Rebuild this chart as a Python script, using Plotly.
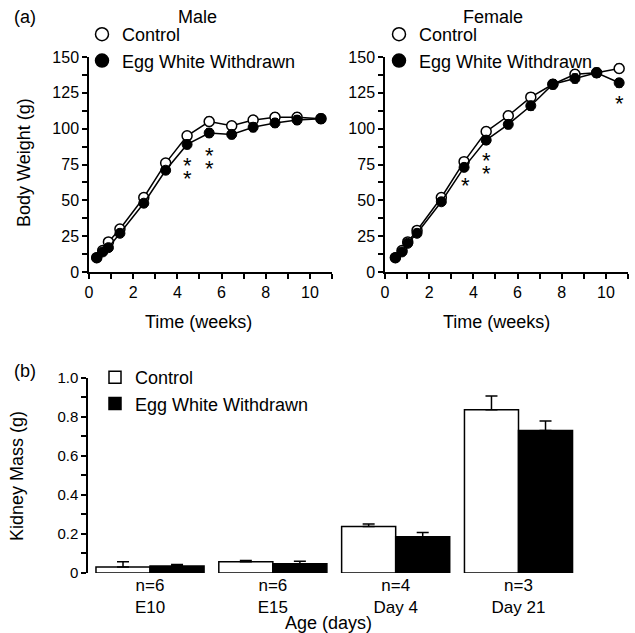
import plotly.graph_objects as go

# ---------------- data ----------------
male_weeks = [0.35, 0.62, 0.88, 1.4, 2.48, 3.47, 4.44, 5.44, 6.46, 7.43, 8.42, 9.42, 10.5]
male_control = [10, 15, 21, 30, 52, 76, 95, 105, 102, 106, 108, 108, 107]
male_control_err = [2, 2, 2, 2.5, 2.5, 2.5, 3, 3, 3, 3, 3, 3, 3]
male_eww = [10, 14, 17, 27, 48, 71, 89, 97, 96, 101, 104, 106, 107]
male_eww_err = [2, 2, 2, 2.5, 2.5, 2.5, 3, 3, 3, 3, 3, 3, 3]

female_weeks = [0.47, 0.77, 1.03, 1.45, 2.55, 3.58, 4.58, 5.58, 6.6, 7.6, 8.6, 9.58, 10.6]
female_control = [10, 15, 21, 29, 52, 77, 98, 109, 122, 131, 138, 139, 142]
female_control_err = [2, 2, 2, 2.5, 2.5, 2.5, 3, 3, 3, 3, 3, 3, 3]
female_eww = [10, 14, 20, 27, 49, 73, 92, 103, 116, 131, 135, 139, 132]
female_eww_err = [2, 2, 2, 2.5, 2.5, 2.5, 3, 3, 3, 3, 3, 3, 3]

# significance stars (visible positions)
male_star_x = [4.44, 4.44, 5.44, 5.44]
male_star_y = [78, 69, 85, 76]
female_star_x = [3.64, 4.59, 4.59, 10.62]
female_star_y = [64, 81, 72, 121]

age_groups = ["n=6<br>E10", "n=6<br>E15", "n=4<br>Day 4", "n=3<br>Day 21"]
kidney_control = [0.031, 0.057, 0.238, 0.836]
kidney_control_err = [0.026, 0.007, 0.013, 0.07]
kidney_eww = [0.036, 0.047, 0.186, 0.730]
kidney_eww_err = [0.007, 0.013, 0.021, 0.048]

week_ticks = list(range(0, 12))
week_labels = [str(v) if v % 2 == 0 and v <= 10 else "" for v in week_ticks]
bw_ticks = [i * 12.5 for i in range(13)]
bw_labels = [str(int(v)) if v % 25 == 0 else "" for v in bw_ticks]
km_ticks = [i / 10 for i in range(11)]
km_labels = ["0", "", "0.2", "", "0.4", "", "0.6", "", "0.8", "", "1.0"]

FONT = "Liberation Sans, Arial, sans-serif"
BLACK = "black"
W, H = 635, 633

fig = go.Figure()

def add_growth(xs, ctrl, ctrl_err, eww, eww_err, xa, ya):
    fig.add_trace(go.Scatter(
        x=xs, y=ctrl, mode="lines+markers", xaxis=xa, yaxis=ya, showlegend=False,
        line=dict(color=BLACK, width=1.5),
        marker=dict(symbol="circle", size=10, color="white", line=dict(color=BLACK, width=1.5)),
        error_y=dict(type="data", array=ctrl_err, color=BLACK, thickness=1.2, width=3),
        cliponaxis=False))
    fig.add_trace(go.Scatter(
        x=xs, y=eww, mode="lines+markers", xaxis=xa, yaxis=ya, showlegend=False,
        line=dict(color=BLACK, width=1.5),
        marker=dict(symbol="circle", size=10, color=BLACK, line=dict(color=BLACK, width=1)),
        error_y=dict(type="data", array=eww_err, color=BLACK, thickness=1.2, width=3),
        cliponaxis=False))

add_growth(male_weeks, male_control, male_control_err, male_eww, male_eww_err, "x", "y")
add_growth(female_weeks, female_control, female_control_err, female_eww, female_eww_err, "x2", "y2")

# legend entries for growth panels
for lg in ["legend", "legend2"]:
    fig.add_trace(go.Scatter(x=[None], y=[None], mode="markers", name="Control", legend=lg,
                             marker=dict(symbol="circle", size=13, color="white",
                                         line=dict(color=BLACK, width=1.5))))
    fig.add_trace(go.Scatter(x=[None], y=[None], mode="markers", name="Egg White Withdrawn", legend=lg,
                             marker=dict(symbol="circle", size=13, color=BLACK,
                                         line=dict(color=BLACK, width=1.5))))

# kidney mass bars
fig.add_trace(go.Bar(
    x=age_groups, y=kidney_control, name="Control", xaxis="x3", yaxis="y3", legend="legend3",
    marker=dict(color="white", line=dict(color=BLACK, width=1.5)),
    error_y=dict(type="data", array=kidney_control_err, arrayminus=[0] * 4, symmetric=False,
                 color=BLACK, thickness=1.5, width=6)))
fig.add_trace(go.Bar(
    x=age_groups, y=kidney_eww, name="Egg White Withdrawn", xaxis="x3", yaxis="y3", legend="legend3",
    marker=dict(color=BLACK, line=dict(color=BLACK, width=1.5)),
    error_y=dict(type="data", array=kidney_eww_err, arrayminus=[0] * 4, symmetric=False,
                 color=BLACK, thickness=1.5, width=6)))

axis_common = dict(showline=True, linecolor=BLACK, linewidth=1.5, ticks="outside",
                   ticklen=5, tickwidth=1.5, tickcolor=BLACK, showgrid=False, zeroline=False,
                   automargin=False)
top_tickfont = dict(family=FONT, size=16, color=BLACK)

top_dom = [1 - 272 / H, 1 - 57 / H]
legend_style = dict(xanchor="left", yanchor="top", font=dict(family=FONT, size=18, color=BLACK),
                    bgcolor="rgba(0,0,0,0)", itemwidth=30, tracegroupgap=0)
fig.update_layout(
    xaxis=dict(domain=[89 / W, 332 / W], range=[0, 11], tickmode="array",
               tickvals=week_ticks, ticktext=week_labels, anchor="y", tickfont=top_tickfont,
               **axis_common),
    yaxis=dict(domain=top_dom, range=[0, 150], tickmode="array", tickvals=bw_ticks,
               ticktext=bw_labels, anchor="x", tickfont=top_tickfont, **axis_common),
    xaxis2=dict(domain=[385 / W, 628 / W], range=[0, 11], tickmode="array",
                tickvals=week_ticks, ticktext=week_labels, anchor="y2", tickfont=top_tickfont,
                **axis_common),
    yaxis2=dict(domain=top_dom, range=[0, 150], tickmode="array", tickvals=bw_ticks,
                ticktext=bw_labels, anchor="x2", tickfont=top_tickfont, **axis_common),
    xaxis3=dict(domain=[88 / W, 575 / W], range=[-0.505, 3.46], anchor="y3",
                showline=False, ticks="", showgrid=False, zeroline=False, automargin=False,
                tickfont=dict(family=FONT, size=17, color=BLACK)),
    yaxis3=dict(domain=[1 - 573 / H, 1 - 377.7 / H], range=[0, 1.0], tickmode="array",
                tickvals=km_ticks, ticktext=km_labels, anchor="x3",
                tickfont=dict(family=FONT, size=15, color=BLACK), **axis_common),
    barmode="group", bargap=0.12, bargroupgap=0,
    width=W, height=H, margin=dict(l=0, r=0, t=0, b=0),
    paper_bgcolor="white", plot_bgcolor="white",
    font=dict(family=FONT, color=BLACK),
    legend=dict(x=82 / W, y=1 - 16 / H, **legend_style),
    legend2=dict(x=379 / W, y=1 - 16 / H, **legend_style),
    legend3=dict(x=95 / W, y=1 - 359 / H, **legend_style),
    showlegend=True,
)

ann = []
def txt(x, y, s, size=18, angle=0):
    ann.append(dict(x=x / W, y=1 - y / H, xref="paper", yref="paper", text=s, showarrow=False,
                    xanchor="center", yanchor="middle", textangle=angle,
                    font=dict(family=FONT, size=size, color=BLACK)))

txt(25, 17, "(a)")
txt(197, 17, "Male")
txt(493, 17, "Female")
txt(24, 163, "Body Weight (g)", angle=-90)
txt(198, 322, "Time (weeks)")
txt(496, 322, "Time (weeks)")
txt(25, 371, "(b)")
txt(17, 476, "Kidney Mass (g)", angle=-90)
txt(328, 623, "Age (days)")

for xs, ys, xa, ya in [(male_star_x, male_star_y, "x", "y"), (female_star_x, female_star_y, "x2", "y2")]:
    for sx, sy in zip(xs, ys):
        ann.append(dict(x=sx, y=sy, xref=xa, yref=ya, text="*", showarrow=False,
                        xanchor="center", yanchor="middle", yshift=-5,
                        font=dict(family=FONT, size=22, color=BLACK)))

fig.update_layout(annotations=ann)
fig.write_html("out.html", config={"displayModeBar": False},
               post_script="document.body.style.margin='0';")
